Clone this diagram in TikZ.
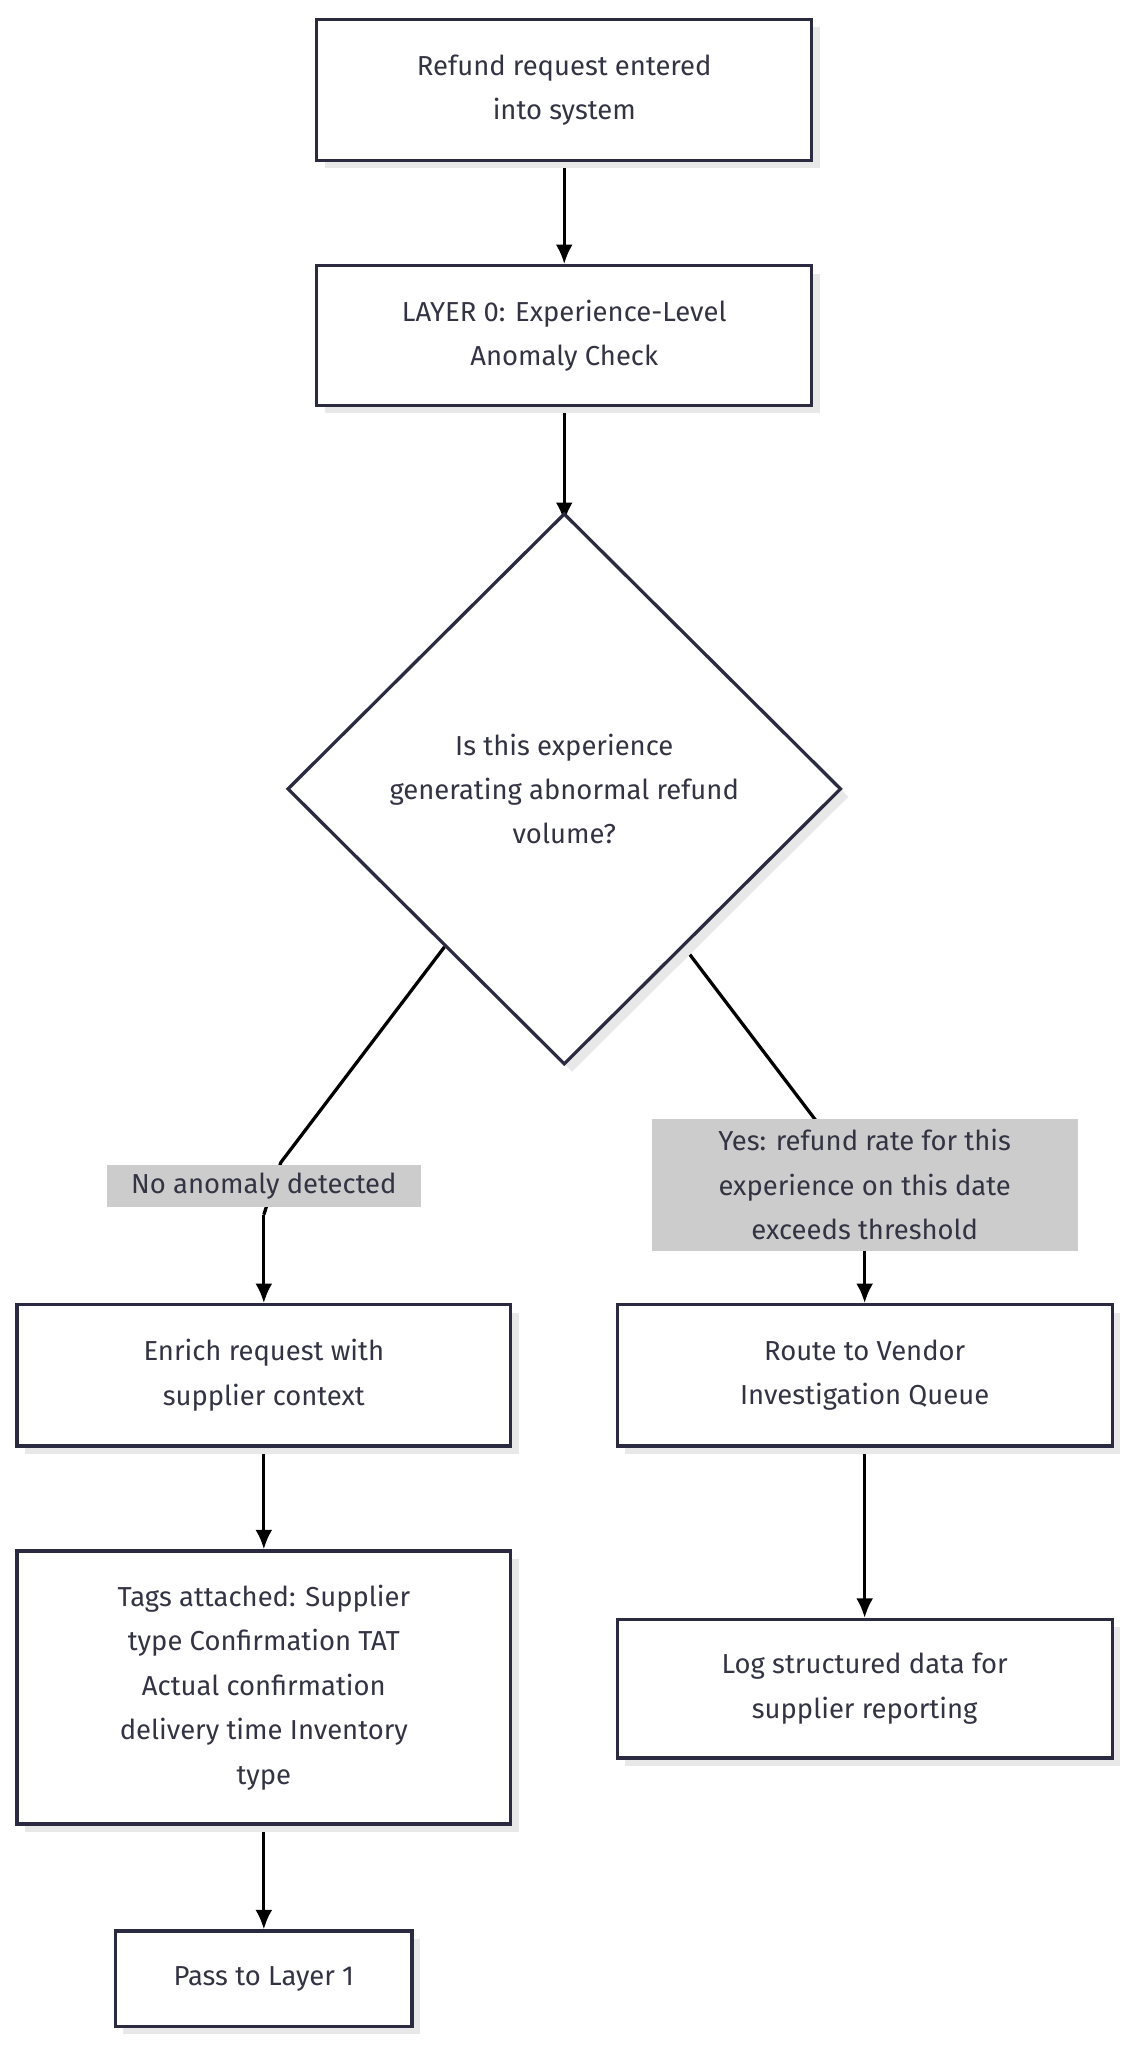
\documentclass[tikz,border=0pt]{standalone}
\usepackage{fontspec}
\setmainfont{Fira Sans}
\usetikzlibrary{shapes.geometric,shadows,backgrounds,calc,arrows.meta}
\definecolor{ink}{HTML}{2A2A40}
\definecolor{txt}{HTML}{333344}
\begin{document}
\begin{tikzpicture}[x=1pt,y=-1pt,
  font=\fontsize{21}{34}\selectfont, text=txt,
  box/.style={draw=ink, line width=2.5pt, fill=white, align=center, inner sep=0pt,
    general shadow={fill=black!9, shadow xshift=6pt, shadow yshift=-6pt}},
  lab/.style={fill=black!20, align=center, inner sep=0pt, text=txt},
  arr/.style={draw=black, line width=2.5pt, -{Latex[length=15pt,width=13pt]}},
  ln/.style={draw=black, line width=2.5pt}]
\useasboundingbox (0,0) rectangle (865,1568);
\node[box, minimum width=379pt, minimum height=108pt] (a) at (432,69) {Refund request entered\\into system};
\node[box, minimum width=379pt, minimum height=107pt] (b) at (432,257) {LAYER 0: Experience-Level\\Anomaly Check};
\node[box, diamond, minimum width=424pt, minimum height=422pt] (d) at (432,604) {Is this experience\\generating abnormal refund\\volume?};
\node[box, minimum width=378pt, minimum height=108pt] (e) at (202,1053) {Enrich request with\\supplier context};
\node[box, minimum width=379pt, minimum height=108pt] (r) at (662,1053) {Route to Vendor\\Investigation Queue};
\node[box, minimum width=378pt, minimum height=209pt] (t) at (202,1292) {Tags attached: Supplier\\type Confirmation TAT\\Actual confirmation\\delivery time Inventory\\type};
\node[box, minimum width=379pt, minimum height=106pt] (l) at (662,1293) {Log structured data for\\supplier reporting};
\node[box, minimum width=227pt, minimum height=73pt] (p) at (202,1515) {Pass to Layer 1};
\node[lab, minimum width=240pt, minimum height=32pt] (no) at (202,908) {No anomaly detected};
\node[lab, minimum width=326pt, minimum height=101pt] (yes) at (662,907) {Yes: refund rate for this\\experience on this date\\exceeds threshold};
\coordinate (dl) at ($(d.west)!0.57!(d.south)$);
\coordinate (dr) at ($(d.east)!0.57!(d.south)$);
\coordinate (bend) at (202,930);
\begin{scope}[on background layer]
\draw[arr] (a) -- (b.north);
\draw[arr] (b) -- ([yshift=-8pt]d.north);
\draw[ln] (dl) -- ($(no.center)+(13,-18)$) -- (bend);
\draw[arr] (bend) -- (e.north);
\draw[ln] (dr) -- (yes.center);
\draw[arr] (yes.south) -- (r.north);
\draw[arr] (e) -- (t.north);
\draw[arr] (r) -- (l.north);
\draw[arr] (t) -- (p.north);
\end{scope}
\end{tikzpicture}
\end{document}
